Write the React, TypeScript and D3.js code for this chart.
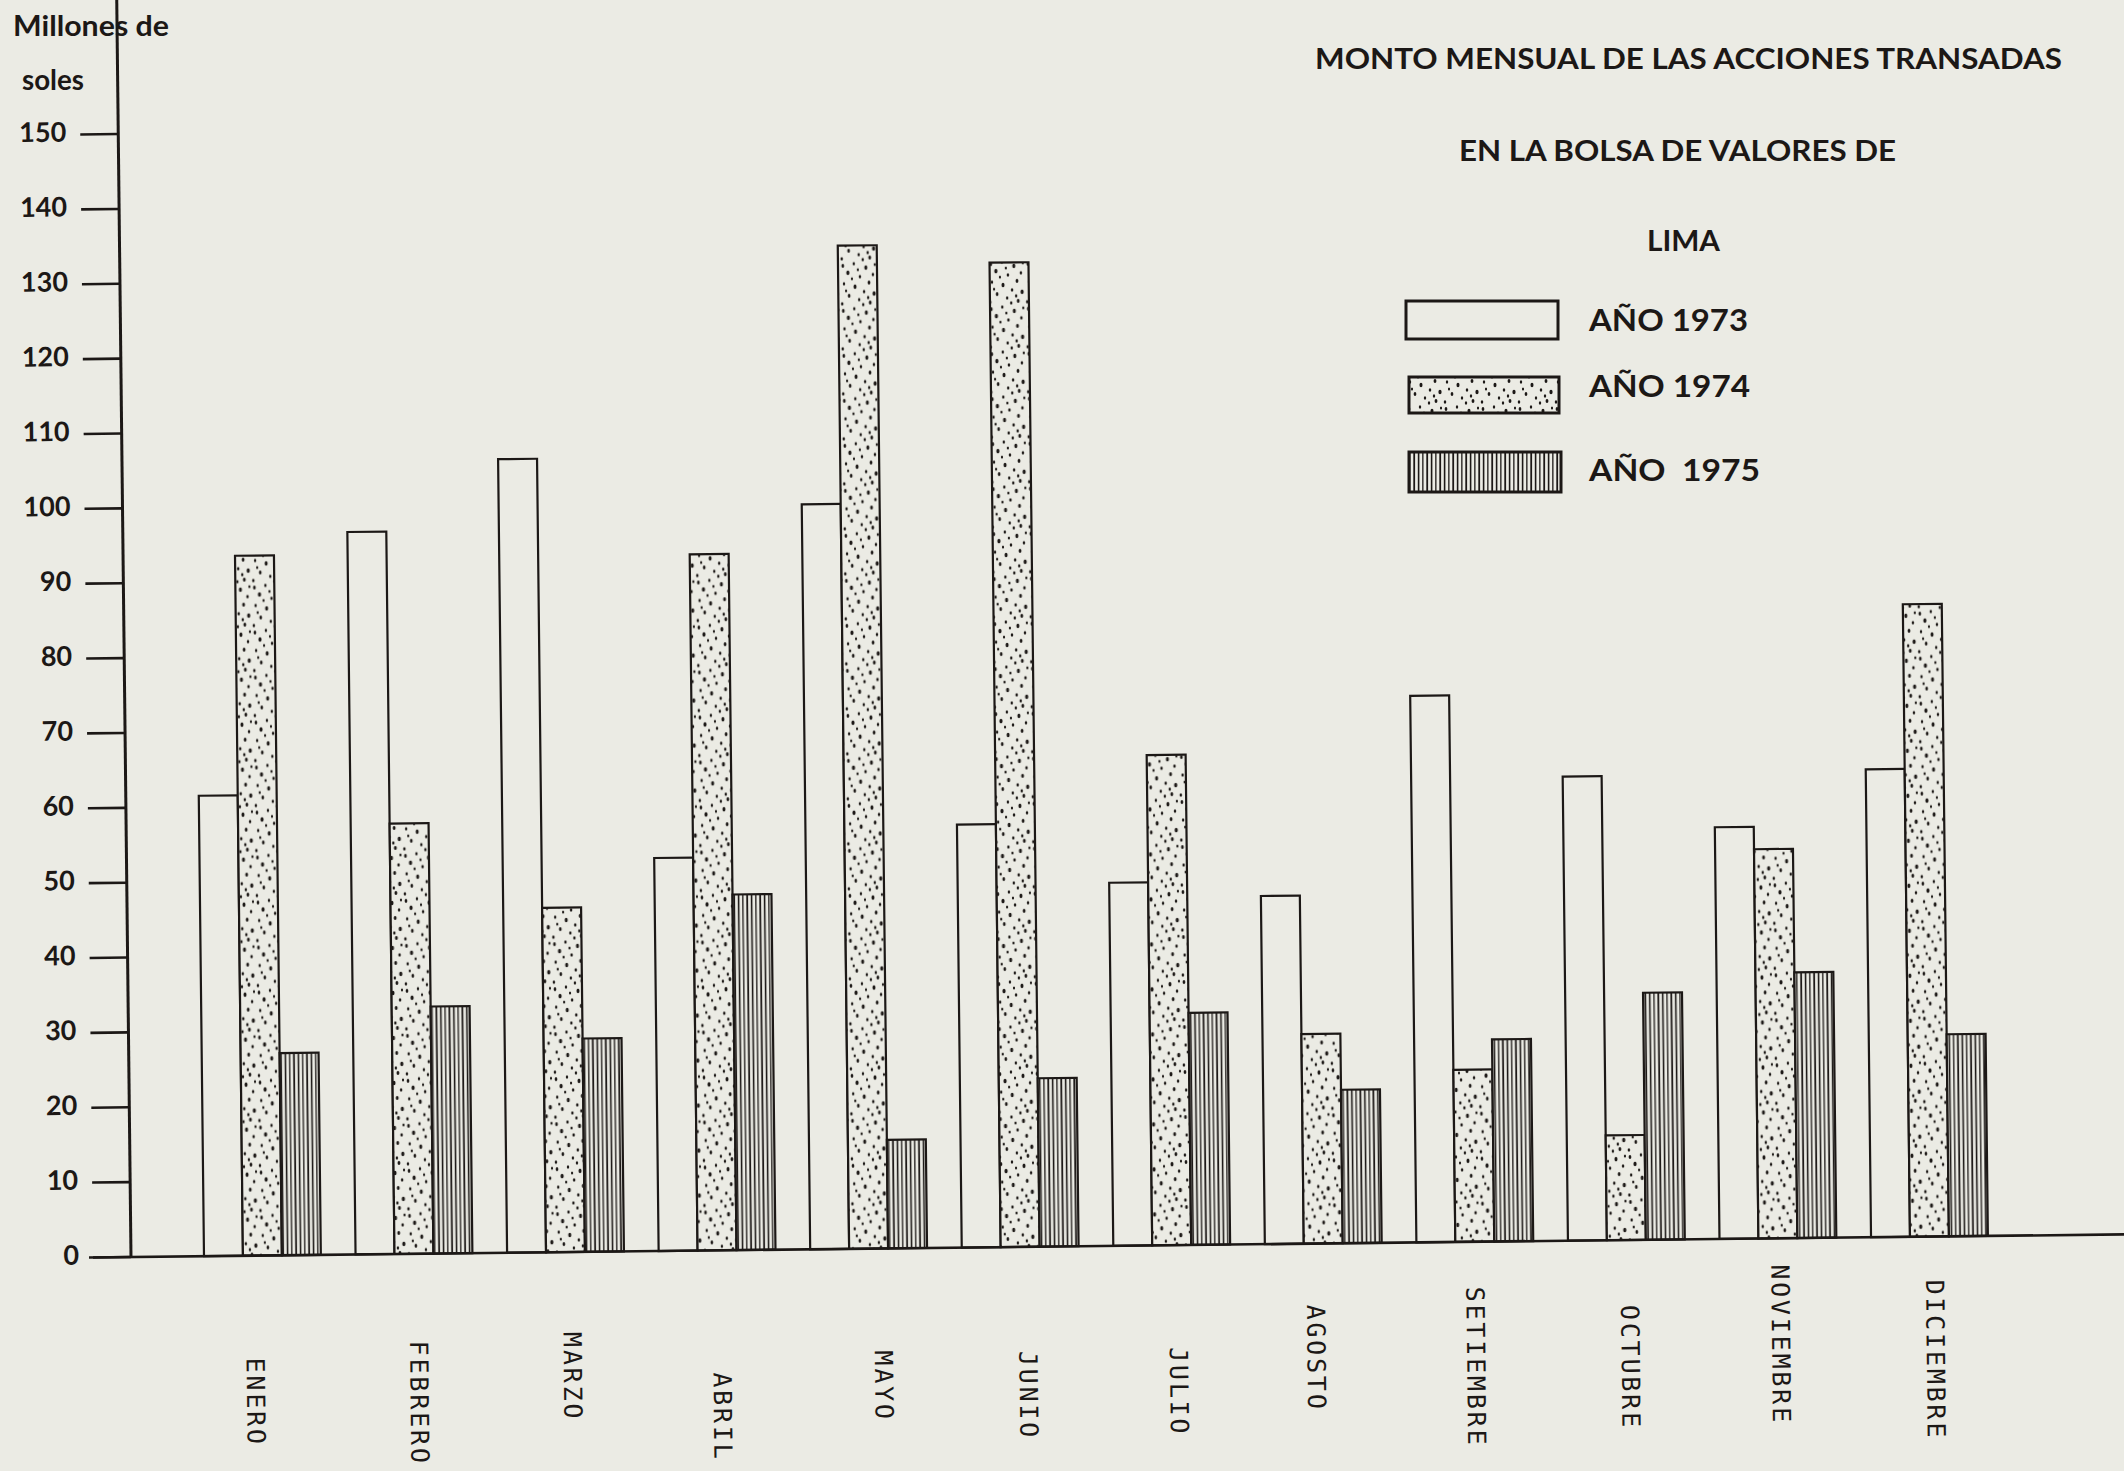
import React from "react";
import * as d3 from "d3";

const MONTHS = ["ENERO", "FEBRERO", "MARZO", "ABRIL", "MAYO", "JUNIO", "JULIO", "AGOSTO", "SETIEMBRE", "OCTUBRE", "NOVIEMBRE", "DICIEMBRE"];
const SERIES = ["AÑO 1973", "AÑO 1974", "AÑO  1975"];
const V1973 = [61.5, 96.5, 106, 52.5, 99.5, 56.5, 48.5, 46.5, 73, 62, 55, 62.5];
const V1974 = [93.5, 57.5, 46, 93, 134, 131.5, 65.5, 28, 23, 14, 52, 84.5];
const V1975 = [27, 33, 28.5, 47.5, 14.5, 22.5, 31, 20.5, 27, 33, 35.5, 27];
const Y_TICKS = [0, 10, 20, 30, 40, 50, 60, 70, 80, 90, 100, 110, 120, 130, 140, 150];
const TITLE = ["MONTO MENSUAL DE LAS ACCIONES TRANSADAS", "EN LA BOLSA DE VALORES DE", "LIMA"];
const Y_UNIT = ["Millones de", "soles"];

// layout (pixels)
const W = 2124, H = 1471;
const AX_X = 131, BASE_Y = 1257, TOP_Y = 134, ROT = -0.65;
const LABEL_DROP = [102, 87, 80, 122, 102, 104, 102, 61, 45, 65, 26, 43];
const LABEL_SHIFT = [-14, -2, 0, -2, 8, 1, 0, -14, -6, -3, -4, -1];
const PAPER = "#ebebe4";
const INK = "#1c1816";
const FUTURA = "Lato, 'Open Sans', sans-serif";
const MONO = "'DejaVu Sans Mono', 'Liberation Mono', monospace";

const DOTS = [
  [3, 4, 1.5], [14, 2, 1.3], [26, 6, 1.7], [33, 13, 1.4], [8, 11, 1.8], [20, 15, 1.4],
  [29, 21, 1.6], [4, 22, 1.3], [15, 25, 1.7], [24, 30, 1.4], [34, 32, 1.8], [9, 34, 1.5],
  [19, 38, 1.3], [30, 41, 1.6], [2, 42, 1.4], [12, 17, 1.2], [23, 43, 1.3], [35, 3, 1.2],
  [18, 8, 1.2], [6, 29, 1.2], [28, 36, 1.3],
];

export default function App() {
  const x = d3.scaleBand<string>().domain(MONTHS).range([204, 1988]).paddingInner(0.229).paddingOuter(0);
  const sub = d3.scaleBand<number>().domain([0, 1, 2]).range([0, x.bandwidth()]).padding(0);
  const y = d3.scaleLinear().domain([0, 150]).range([BASE_Y, TOP_Y]);
  const series = [V1973, V1974, V1975];
  const fills = [PAPER, "url(#stipple)", "url(#vlines)"];

  return (
    <div style={{ position: "absolute", left: 0, top: 0 }}>
      <svg width={W} height={H} viewBox={`0 0 ${W} ${H}`} style={{ display: "block" }}>
        <defs>
          <pattern id="stipple" patternUnits="userSpaceOnUse" width={37} height={45}>
            <rect width={37} height={45} fill={PAPER} />
            {DOTS.map((d, i) => (
              <ellipse key={i} cx={d[0]} cy={d[1]} rx={d[2] * 0.9} ry={d[2] * 1.3} fill={INK} />
            ))}
          </pattern>
          <pattern id="vlines" patternUnits="userSpaceOnUse" width={13} height={20}>
            <rect width={13} height={20} fill={PAPER} />
            <rect x={0.8} width={1.6} height={20} fill={INK} />
            <rect x={5.2} width={1.3} height={20} fill={INK} />
            <rect x={9.3} width={1.8} height={20} fill={INK} />
          </pattern>
        </defs>
        <rect width={W} height={H} fill={PAPER} />

        <g transform={`rotate(${ROT} ${AX_X} ${BASE_Y})`}>
          {MONTHS.map((m, i) => (
            <g key={m}>
              {series.map((s, k) => (
                <rect
                  key={k}
                  x={(x(m) as number) + (sub(k) as number)}
                  y={y(s[i])}
                  width={sub.bandwidth()}
                  height={BASE_Y - y(s[i])}
                  fill={fills[k]}
                  stroke={INK}
                  strokeWidth={2.2}
                />
              ))}
              <text
                transform={`translate(${(x(m) as number) + x.bandwidth() / 2 + 4 + LABEL_SHIFT[i]} ${BASE_Y + LABEL_DROP[i]}) rotate(90)`}
                fontFamily={MONO}
                fontSize={25}
                letterSpacing={2.8}
                dominantBaseline="middle"
                fill={INK}
              >
                {m}
              </text>
            </g>
          ))}

          <line x1={AX_X} y1={-20} x2={AX_X} y2={BASE_Y} stroke={INK} strokeWidth={3} />
          <line x1={AX_X - 42} y1={BASE_Y} x2={W + 40} y2={BASE_Y} stroke={INK} strokeWidth={2.6} />
          {Y_TICKS.map((t) => (
            <g key={t}>
              <line x1={AX_X - 38} y1={y(t)} x2={AX_X} y2={y(t)} stroke={INK} strokeWidth={2.6} />
              <text
                x={AX_X - 52}
                y={y(t)}
                textAnchor="end"
                dominantBaseline="middle"
                fontFamily={FUTURA}
                fontWeight={700}
                fontSize={27}
                fill={INK}
              >
                {t}
              </text>
            </g>
          ))}
        </g>

        <text x={13} y={36} textLength={156} lengthAdjust="spacingAndGlyphs" fontFamily={FUTURA} fontWeight={700} fontSize={28} fill={INK}>
          {Y_UNIT[0]}
        </text>
        <text x={22} y={90} textLength={62} lengthAdjust="spacingAndGlyphs" fontFamily={FUTURA} fontWeight={700} fontSize={28} fill={INK}>
          {Y_UNIT[1]}
        </text>

        <text x={1315} y={69} textLength={747} lengthAdjust="spacingAndGlyphs" fontFamily={FUTURA} fontWeight={700} fontSize={29} fill={INK}>
          {TITLE[0]}
        </text>
        <text x={1459} y={161} textLength={437} lengthAdjust="spacingAndGlyphs" fontFamily={FUTURA} fontWeight={700} fontSize={29} fill={INK}>
          {TITLE[1]}
        </text>
        <text x={1647} y={251} textLength={73} lengthAdjust="spacingAndGlyphs" fontFamily={FUTURA} fontWeight={700} fontSize={29} fill={INK}>
          {TITLE[2]}
        </text>

        {SERIES.map((s, k) => {
          const boxes = [
            [1406, 301, 152, 38],
            [1409, 377, 150, 36],
            [1409, 452, 152, 40],
          ][k];
          const baselines = [331, 397, 481];
          const widths = [159, 161, 171];
          return (
            <g key={s}>
              <rect x={boxes[0]} y={boxes[1]} width={boxes[2]} height={boxes[3]} fill={fills[k]} stroke={INK} strokeWidth={3} />
              <text
                x={1589}
                y={baselines[k]}
                textLength={widths[k]}
                lengthAdjust="spacingAndGlyphs"
                fontFamily={FUTURA}
                fontWeight={700}
                fontSize={31}
                fill={INK}
                style={{ whiteSpace: "pre" }}
              >
                {s}
              </text>
            </g>
          );
        })}
      </svg>
    </div>
  );
}
